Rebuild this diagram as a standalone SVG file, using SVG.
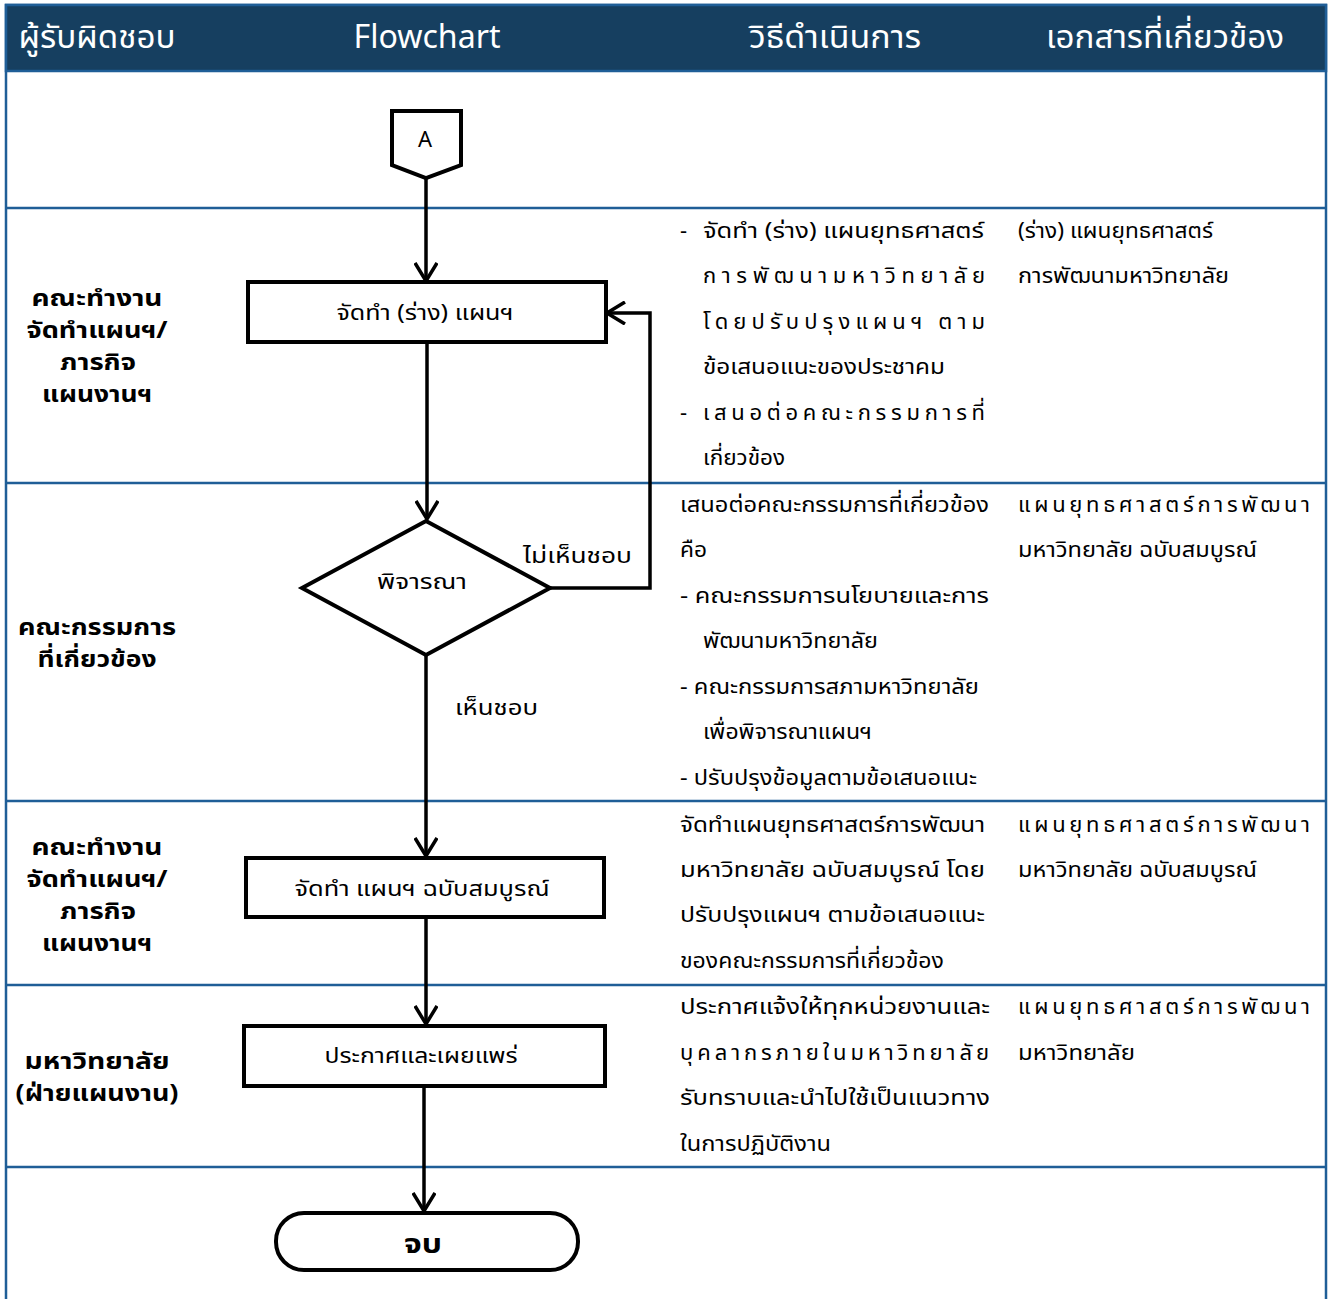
<svg xmlns="http://www.w3.org/2000/svg" width="1333" height="1299" viewBox="0 0 1333 1299">
<style>
.hd{font-family:'Noto Sans Thai','Noto Sans','DejaVu Sans',sans-serif;font-size:32px;fill:#ffffff;text-anchor:middle}
.lane{font-family:'Noto Sans Thai','Noto Sans','DejaVu Sans',sans-serif;font-size:23px;font-weight:bold;fill:#000;text-anchor:middle}
.bx{font-family:'Noto Sans Thai','Noto Sans','DejaVu Sans',sans-serif;font-size:22px;fill:#000;text-anchor:middle}
.tx{font-family:'Noto Sans Thai','Noto Sans','DejaVu Sans',sans-serif;font-size:22px;fill:#000}
.sep{stroke:#1F5E97;stroke-width:2.5}
.shape{fill:#fff;stroke:#000;stroke-width:4}
.conn{fill:none;stroke:#000;stroke-width:3.5}
</style>
<defs>
<marker id="arr" viewBox="0 0 20 24" refX="19" refY="12" markerWidth="20" markerHeight="24" markerUnits="userSpaceOnUse" orient="auto">
<path d="M1,1 L19,12 L1,23" fill="none" stroke="#000" stroke-width="3.5"/>
</marker>
</defs>
<rect x="0" y="0" width="1333" height="1299" fill="#fff"/>
<g id="frame">
<rect x="6" y="5" width="1320" height="1300" fill="none" stroke="#1F5E97" stroke-width="2.5"/>
<rect x="6" y="5" width="1320" height="66" fill="#163F60" stroke="#1F5E97" stroke-width="2.5"/>
<line class="sep" x1="6" y1="208" x2="1326" y2="208"/>
<line class="sep" x1="6" y1="483" x2="1326" y2="483"/>
<line class="sep" x1="6" y1="801" x2="1326" y2="801"/>
<line class="sep" x1="6" y1="985" x2="1326" y2="985"/>
<line class="sep" x1="6" y1="1167" x2="1326" y2="1167"/>
</g>
<g id="header">
<text class="hd" x="97" y="48" textLength="157" lengthAdjust="spacingAndGlyphs">ผู้รับผิดชอบ</text>
<text class="hd" x="427" y="48" textLength="147" lengthAdjust="spacingAndGlyphs">Flowchart</text>
<text class="hd" x="835" y="48" textLength="172" lengthAdjust="spacingAndGlyphs">วิธีดำเนินการ</text>
<text class="hd" x="1165" y="48" textLength="238" lengthAdjust="spacingAndGlyphs">เอกสารที่เกี่ยวข้อง</text>
</g>
<g id="lanes">
<text class="lane" x="97" y="306" textLength="131" lengthAdjust="spacingAndGlyphs">คณะทำงาน</text>
<text class="lane" x="97" y="338" textLength="141" lengthAdjust="spacingAndGlyphs">จัดทำแผนฯ/</text>
<text class="lane" x="98" y="370" textLength="76" lengthAdjust="spacingAndGlyphs">ภารกิจ</text>
<text class="lane" x="97" y="402" textLength="110" lengthAdjust="spacingAndGlyphs">แผนงานฯ</text>
<text class="lane" x="97" y="635" textLength="158" lengthAdjust="spacingAndGlyphs">คณะกรรมการ</text>
<text class="lane" x="97" y="667" textLength="119" lengthAdjust="spacingAndGlyphs">ที่เกี่ยวข้อง</text>
<text class="lane" x="97" y="855" textLength="131" lengthAdjust="spacingAndGlyphs">คณะทำงาน</text>
<text class="lane" x="97" y="887" textLength="141" lengthAdjust="spacingAndGlyphs">จัดทำแผนฯ/</text>
<text class="lane" x="98" y="919" textLength="76" lengthAdjust="spacingAndGlyphs">ภารกิจ</text>
<text class="lane" x="97" y="951" textLength="110" lengthAdjust="spacingAndGlyphs">แผนงานฯ</text>
<text class="lane" x="97" y="1069" textLength="145" lengthAdjust="spacingAndGlyphs">มหาวิทยาลัย</text>
<text class="lane" x="97" y="1101" textLength="163" lengthAdjust="spacingAndGlyphs">(ฝ่ายแผนงาน)</text>
</g>
<g id="connectors">
<path class="conn" d="M426,178 V281" marker-end="url(#arr)"/>
<path class="conn" d="M427,342 V519" marker-end="url(#arr)"/>
<path class="conn" d="M550,588 H650 V313 H607" marker-end="url(#arr)"/>
<path class="conn" d="M426,655 V856" marker-end="url(#arr)"/>
<path class="conn" d="M426,918 V1024" marker-end="url(#arr)"/>
<path class="conn" d="M424,1086 V1211" marker-end="url(#arr)"/>
<text class="tx" x="523" y="563" textLength="109" lengthAdjust="spacingAndGlyphs">ไม่เห็นชอบ</text>
<text class="tx" x="455" y="715" textLength="83" lengthAdjust="spacingAndGlyphs">เห็นชอบ</text>
</g>
<g id="nodeA">
<polygon class="shape" points="392,111 461,111 461,165 426,178 392,165"/>
<text class="bx" x="425" y="147">A</text>
</g>
<g id="node1">
<rect class="shape" x="248" y="282" width="358" height="60"/>
<text class="bx" x="425" y="320" textLength="177" lengthAdjust="spacingAndGlyphs">จัดทำ (ร่าง) แผนฯ</text>
</g>
<g id="node2">
<polygon class="shape" points="426,521 550,588 426,655 302,588"/>
<text class="bx" x="422" y="589" textLength="90" lengthAdjust="spacingAndGlyphs">พิจารณา</text>
</g>
<g id="node3">
<rect class="shape" x="246" y="858" width="358" height="59"/>
<text class="bx" x="422" y="896" textLength="255" lengthAdjust="spacingAndGlyphs">จัดทำ แผนฯ ฉบับสมบูรณ์</text>
</g>
<g id="node4">
<rect class="shape" x="244" y="1026" width="361" height="60"/>
<text class="bx" x="421" y="1063" textLength="193" lengthAdjust="spacingAndGlyphs">ประกาศและเผยแพร่</text>
</g>
<g id="node5">
<rect class="shape" x="276" y="1213" width="302" height="57" rx="28" ry="28"/>
<text class="bx" x="423" y="1253" style="font-weight:bold;font-size:27px" textLength="38" lengthAdjust="spacingAndGlyphs">จบ</text>
</g>
<g id="details">
<text class="tx" x="680" y="238">-</text>
<text class="tx" x="703" y="238" textLength="281" lengthAdjust="spacingAndGlyphs">จัดทำ (ร่าง) แผนยุทธศาสตร์</text>
<text class="tx" x="703" y="283" textLength="282" lengthAdjust="spacing">การพัฒนามหาวิทยาลัย</text>
<text class="tx" x="703" y="329" textLength="282" lengthAdjust="spacing">โดยปรับปรุงแผนฯ ตาม</text>
<text class="tx" x="703" y="374" textLength="242" lengthAdjust="spacingAndGlyphs">ข้อเสนอแนะของประชาคม</text>
<text class="tx" x="680" y="420">-</text>
<text class="tx" x="703" y="420" textLength="282" lengthAdjust="spacing">เสนอต่อคณะกรรมการที่</text>
<text class="tx" x="703" y="465" textLength="82" lengthAdjust="spacingAndGlyphs">เกี่ยวข้อง</text>
<text class="tx" x="1018" y="238" textLength="195" lengthAdjust="spacingAndGlyphs">(ร่าง) แผนยุทธศาสตร์</text>
<text class="tx" x="1018" y="283" textLength="211" lengthAdjust="spacingAndGlyphs">การพัฒนามหาวิทยาลัย</text>

<text class="tx" x="680" y="512" textLength="309" lengthAdjust="spacingAndGlyphs">เสนอต่อคณะกรรมการที่เกี่ยวข้อง</text>
<text class="tx" x="680" y="557" textLength="27" lengthAdjust="spacingAndGlyphs">คือ</text>
<text class="tx" x="680" y="603" textLength="309" lengthAdjust="spacingAndGlyphs">- คณะกรรมการนโยบายและการ</text>
<text class="tx" x="703" y="648" textLength="175" lengthAdjust="spacingAndGlyphs">พัฒนามหาวิทยาลัย</text>
<text class="tx" x="680" y="694" textLength="299" lengthAdjust="spacingAndGlyphs">- คณะกรรมการสภามหาวิทยาลัย</text>
<text class="tx" x="703" y="739" textLength="169" lengthAdjust="spacingAndGlyphs">เพื่อพิจารณาแผนฯ</text>
<text class="tx" x="680" y="785" textLength="297" lengthAdjust="spacingAndGlyphs">- ปรับปรุงข้อมูลตามข้อเสนอแนะ</text>
<text class="tx" x="1018" y="512" textLength="292" lengthAdjust="spacing">แผนยุทธศาสตร์การพัฒนา</text>
<text class="tx" x="1018" y="557" textLength="239" lengthAdjust="spacingAndGlyphs">มหาวิทยาลัย ฉบับสมบูรณ์</text>

<text class="tx" x="680" y="832" textLength="305" lengthAdjust="spacingAndGlyphs">จัดทำแผนยุทธศาสตร์การพัฒนา</text>
<text class="tx" x="680" y="877" textLength="305" lengthAdjust="spacingAndGlyphs">มหาวิทยาลัย ฉบับสมบูรณ์ โดย</text>
<text class="tx" x="680" y="922" textLength="305" lengthAdjust="spacingAndGlyphs">ปรับปรุงแผนฯ ตามข้อเสนอแนะ</text>
<text class="tx" x="680" y="968" textLength="264" lengthAdjust="spacingAndGlyphs">ของคณะกรรมการที่เกี่ยวข้อง</text>
<text class="tx" x="1018" y="832" textLength="292" lengthAdjust="spacing">แผนยุทธศาสตร์การพัฒนา</text>
<text class="tx" x="1018" y="877" textLength="239" lengthAdjust="spacingAndGlyphs">มหาวิทยาลัย ฉบับสมบูรณ์</text>

<text class="tx" x="680" y="1014" textLength="310" lengthAdjust="spacingAndGlyphs">ประกาศแจ้งให้ทุกหน่วยงานและ</text>
<text class="tx" x="680" y="1060" textLength="309" lengthAdjust="spacing">บุคลากรภายในมหาวิทยาลัย</text>
<text class="tx" x="680" y="1105" textLength="310" lengthAdjust="spacingAndGlyphs">รับทราบและนำไปใช้เป็นแนวทาง</text>
<text class="tx" x="680" y="1151" textLength="151" lengthAdjust="spacingAndGlyphs">ในการปฏิบัติงาน</text>
<text class="tx" x="1018" y="1014" textLength="292" lengthAdjust="spacing">แผนยุทธศาสตร์การพัฒนา</text>
<text class="tx" x="1018" y="1060" textLength="117" lengthAdjust="spacingAndGlyphs">มหาวิทยาลัย</text>
</g>
</svg>
